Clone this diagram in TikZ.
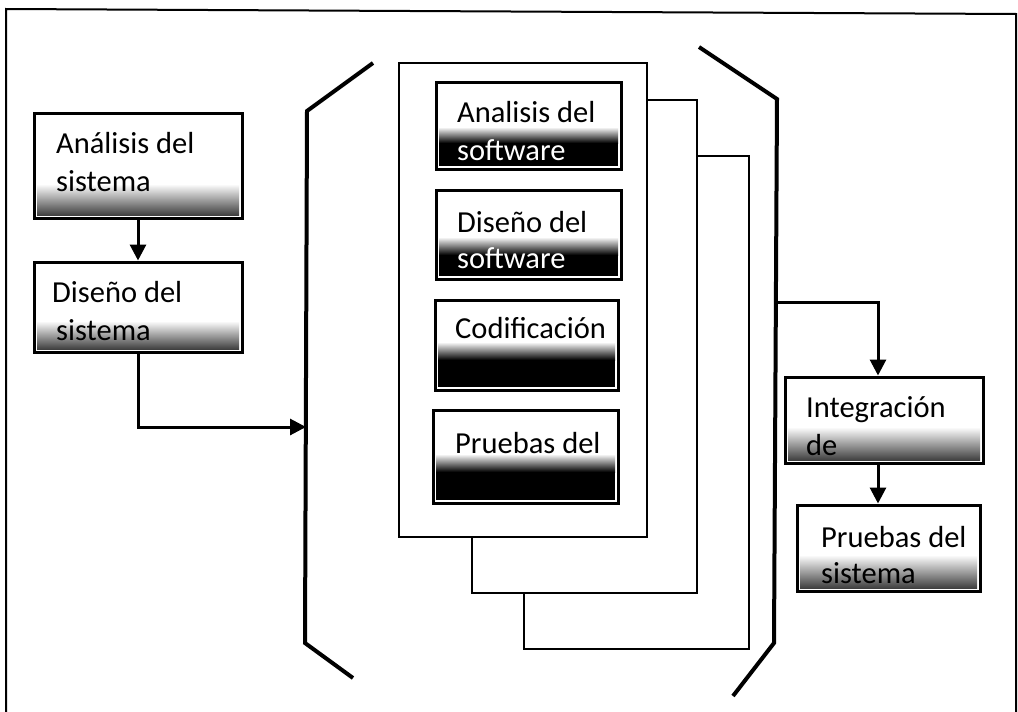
\documentclass[tikz,border=0pt]{standalone}
\usepackage{fontspec}
\setmainfont{Carlito}
\usetikzlibrary{arrows.meta}
\begin{document}
\begin{tikzpicture}[x=1pt,y=-1pt,
  stagebox/.style={draw, line width=3pt, inner sep=0pt, fill=white},
  page/.style={draw, line width=1.3pt, inner sep=0pt, fill=white},
  lbl/.style={anchor=base west, inner sep=0pt, font=\fontsize{30.5}{36}\selectfont},
  inv/.style={lbl, text=white},
  flow/.style={line width=3pt, -{Triangle[length=16pt,width=16pt]}},
  bracket/.style={line width=4pt, line join=miter},
  greyband/.style={top color=white, bottom color=black!75},
  fadeband/.style={top color=white, bottom color=black}]

\useasboundingbox (0,0) rectangle (1018,712);
\fill[white] (0,0) rectangle (1018,712);

% outer frame
\draw[line width=2pt] (6,712) -- (6,9) -- (1016,14) -- (1016,712);

% stacked pages of the software cycle
\node[page, minimum width=225, minimum height=493] (p3) at (636.5,402.5) {};
\node[page, minimum width=225, minimum height=493] (p2) at (584.5,346.5) {};
\node[page, minimum width=248, minimum height=474] (p1) at (523,300) {};

% brackets around the stack
\coordinate (lb1) at (373,63);
\coordinate (lb2) at (307,111);
\coordinate (lb3) at (305,643);
\coordinate (lb4) at (353,678);
\coordinate (rb1) at (699,47);
\coordinate (rb2) at (777,99);
\coordinate (rb3) at (774,643);
\coordinate (rb4) at (733,696);
\draw[bracket] (lb1) -- (lb2) -- (lb3) -- (lb4);
\draw[bracket] (rb1) -- (rb2) -- (rb3) -- (rb4);
\coordinate (lin) at (306,427);
\coordinate (rout) at (776,302);

% stage boxes
\node[stagebox, minimum width=208, minimum height=105] (ana) at (138,165.5) {};
\node[stagebox, minimum width=208, minimum height=90] (dis) at (138,307) {};
\node[stagebox, minimum width=185, minimum height=87] (asw) at (528.5,125.5) {};
\node[stagebox, minimum width=185, minimum height=89] (dsw) at (528.5,234.5) {};
\node[stagebox, minimum width=183, minimum height=90] (cod) at (526.5,345) {};
\node[stagebox, minimum width=185, minimum height=93] (prs) at (525.5,456.5) {};
\node[stagebox, minimum width=198, minimum height=86] (int) at (884,420) {};
\node[stagebox, minimum width=183, minimum height=86] (psi) at (888.5,548) {};

% shaded bands at the foot of each box
\shade[greyband] (37,184) rectangle (239,215);
\shade[greyband] (37,321) rectangle (239,349);
\shade[fadeband] (439,127) rectangle (618,143);
\fill (439,143) rectangle (618,166);
\shade[fadeband] (439,237) rectangle (618,255);
\fill (439,255) rectangle (618,276);
\shade[fadeband] (438,342) rectangle (615,360);
\fill (438,360) rectangle (615,387);
\shade[fadeband] (436,454) rectangle (615,472);
\fill (436,472) rectangle (615,500);
\shade[greyband] (788,427) rectangle (980,460);
\shade[greyband] (800,555) rectangle (977,588);

% labels
\node[lbl] (ana1) at (56,153) {Análisis del};
\node[lbl] (ana2) at (56,191) {sistema};
\node[lbl] (dis1) at (52,302) {Diseño del};
\node[lbl] (dis2) at (56,340) {sistema};
\node[lbl] (asw1) at (457,122) {Analisis del};
\node[inv] (asw2) at (457,160) {software};
\node[lbl] (dsw1) at (457,232) {Diseño del};
\node[inv] (dsw2) at (457,268) {software};
\node[lbl] (cod1) at (455,338) {Codificación};
\node[lbl] (prs1) at (455,453) {Pruebas del};
\node[lbl] (int1) at (806,417) {Integración};
\node[lbl] (int2) at (806,455) {de};
\node[lbl] (psi1) at (821,547) {Pruebas del};
\node[lbl] (psi2) at (821,583) {sistema};

% connectors
\draw[flow] (ana.south) -- (dis.north);
\draw[flow] (dis.south) |- (lin);
\draw[flow] (rout) -| ([xshift=-6pt]int.north);
\draw[flow] ([xshift=-6pt]int.south) -- ([xshift=-6pt]int.south |- psi.north);
\end{tikzpicture}
\end{document}
